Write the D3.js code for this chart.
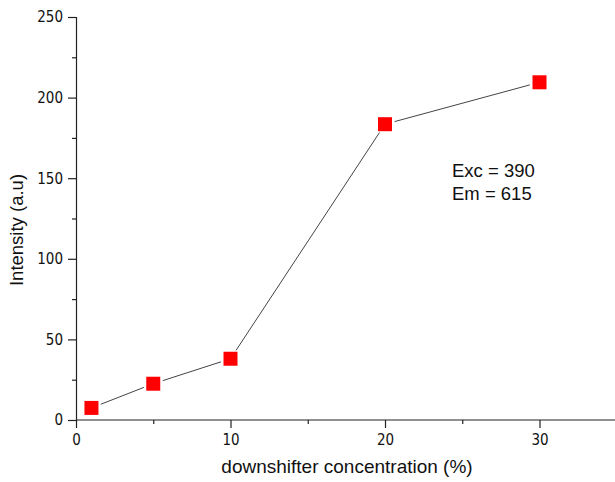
<!DOCTYPE html>
<html>
<head>
<meta charset="utf-8">
<script src="https://cdn.jsdelivr.net/npm/d3@7"></script>
<style>
  body { margin: 0; background: #fff; }
</style>
</head>
<body>
<svg id="chart" width="615" height="482"></svg>
<script>
const concentration = [1, 5, 10, 20, 30];
const intensity = [7.5, 22.5, 38, 183.5, 209.5];
const xTicks = [0, 10, 20, 30];
const xMinor = [5, 15, 25];
const yTicks = [0, 50, 100, 150, 200, 250];
const yMinor = [25, 75, 125, 175, 225];
const notes = ["Exc = 390", "Em = 615"];

const svg = d3.select("#chart");
const margin = { left: 76, top: 17, bottom: 420 };
const titleFont = "Liberation Sans, Arial, sans-serif";

const x = d3.scaleLinear().domain([0, 35]).range([margin.left, margin.left + 35 * 15.45]);
const y = d3.scaleLinear().domain([0, 250]).range([margin.bottom, margin.top]);

// axes
const xAxis = svg.append("g").attr("transform", `translate(0,${margin.bottom})`)
    .call(d3.axisBottom(x).tickValues(xTicks).tickSize(8).tickPadding(6).tickFormat(d3.format("d")));
xAxis.select(".domain").attr("d", `M${margin.left},0H615`);
svg.append("g").attr("transform", `translate(0,${margin.bottom})`)
    .call(d3.axisBottom(x).tickValues(xMinor).tickSize(4).tickFormat(""))
    .select(".domain").remove();

svg.append("g").attr("transform", `translate(${margin.left},0)`)
    .call(d3.axisLeft(y).tickValues(yTicks).tickSize(8).tickPadding(5));
svg.append("g").attr("transform", `translate(${margin.left},0)`)
    .call(d3.axisLeft(y).tickValues(yMinor).tickSize(4).tickFormat(""))
    .select(".domain").remove();

svg.selectAll(".domain, .tick line").attr("stroke", "#222").attr("stroke-width", 1.2);
svg.selectAll(".tick text")
    .attr("font-family", "DejaVu Sans Condensed, DejaVu Sans, sans-serif")
    .attr("font-size", 15)
    .attr("fill", "#111");

// connecting line, with a small gap at each marker
const pts = concentration.map((c, i) => [x(c), y(intensity[i])]);
const gap = 10;
const segs = d3.pairs(pts).map(([a, b]) => {
    const dx = b[0] - a[0], dy = b[1] - a[1];
    const len = Math.hypot(dx, dy);
    const ux = dx / len, uy = dy / len;
    return [a[0] + ux * gap, a[1] + uy * gap, b[0] - ux * gap, b[1] - uy * gap];
});
svg.append("g").selectAll("line").data(segs).join("line")
    .attr("x1", d => d[0]).attr("y1", d => d[1]).attr("x2", d => d[2]).attr("y2", d => d[3])
    .attr("stroke", "#444").attr("stroke-width", 1);

// markers
const size = 14;
svg.append("g").selectAll("rect").data(concentration).join("rect")
    .attr("x", (d) => x(d) - size / 2)
    .attr("y", (d, i) => y(intensity[i]) - size / 2)
    .attr("width", size).attr("height", size)
    .attr("fill", "#ff0000");

// axis titles
svg.append("text")
    .attr("x", 347).attr("y", 473)
    .attr("text-anchor", "middle")
    .attr("font-family", titleFont).attr("font-size", 19).attr("fill", "#111")
    .text("downshifter concentration (%)");

svg.append("text")
    .attr("transform", "translate(23,230) rotate(-90)")
    .attr("text-anchor", "middle")
    .attr("font-family", titleFont).attr("font-size", 18.5).attr("fill", "#111")
    .text("Intensity (a.u)");

// annotation
svg.append("g").selectAll("text").data(notes).join("text")
    .attr("x", 452).attr("y", (d, i) => 177 + i * 23)
    .attr("font-family", titleFont).attr("font-size", 18.5).attr("fill", "#111")
    .text(d => d);
</script>
</body>
</html>
